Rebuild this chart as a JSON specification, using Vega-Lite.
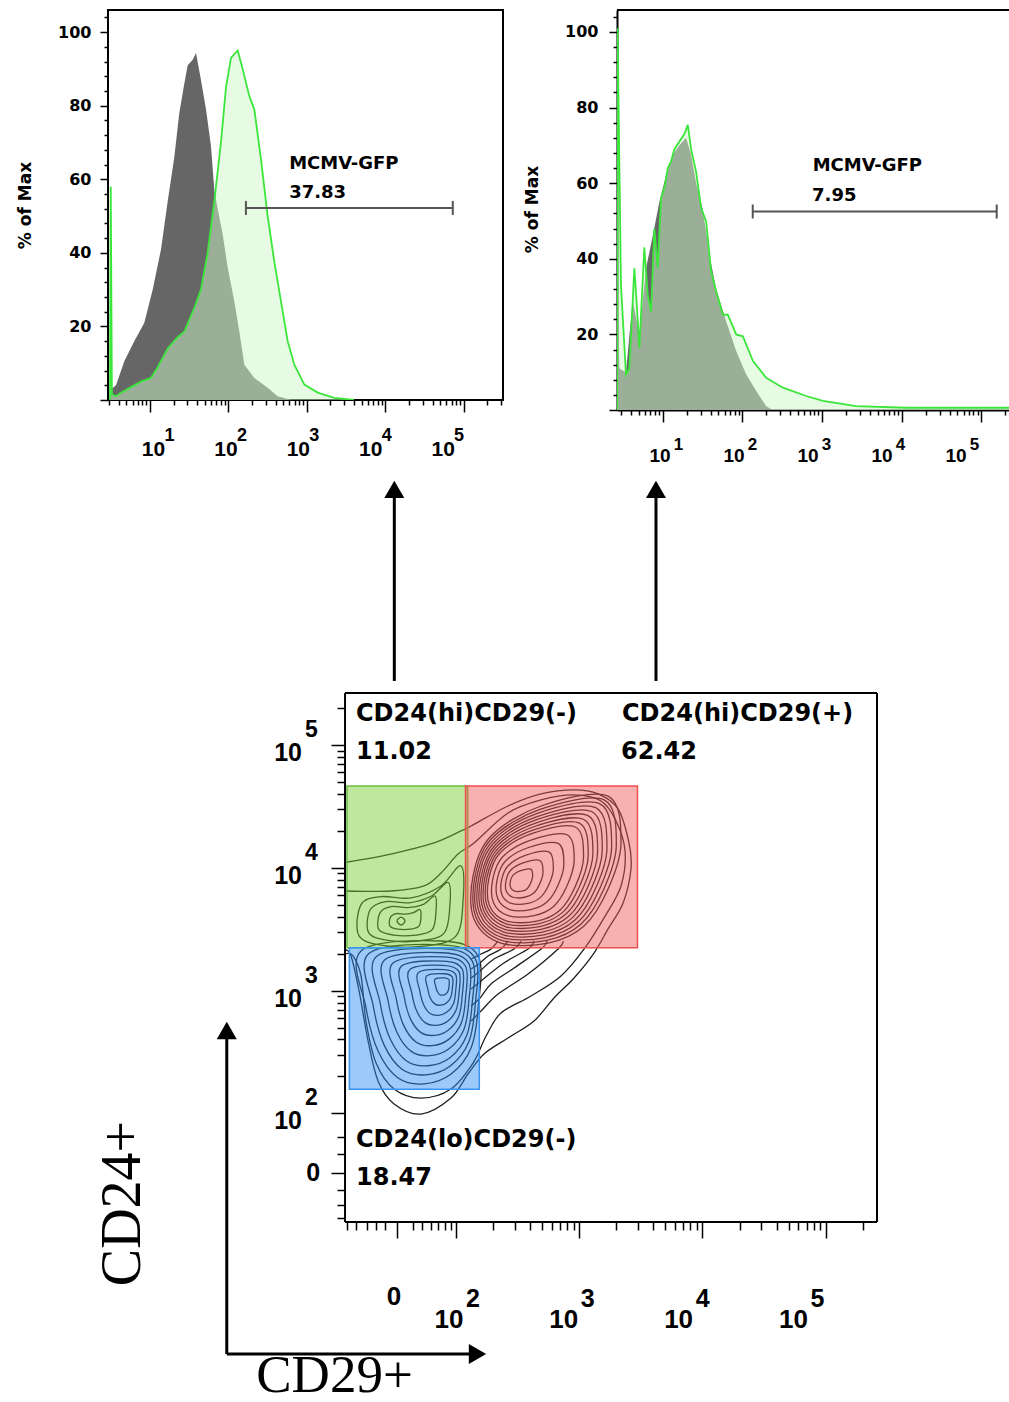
{
"$schema": "https://vega.github.io/schema/vega-lite/v6.json",
"background": "white",
"padding": {"left": 15, "top": 8, "right": 0, "bottom": 0},
"config": {"view": {"stroke": null}, "axis": {"grid": false, "labelOverlap": false, "labelFlush": false, "labelBound": false, "tickColor": "black", "tickWidth": 1.5, "labelColor": "black", "titleColor": "black"}},
"datasets": {
"blank": [{"t": ""}],
"h1grey": [{"L":0.49,"V":0},{"L":0.51,"V":3},{"L":0.567,"V":4},{"L":0.673,"V":10.5},{"L":0.8,"V":16},{"L":0.928,"V":21},{"L":1.035,"V":30},{"L":1.141,"V":41},{"L":1.226,"V":54},{"L":1.31,"V":66},{"L":1.374,"V":78},{"L":1.438,"V":86},{"L":1.481,"V":91},{"L":1.545,"V":92.5},{"L":1.587,"V":94.3},{"L":1.65,"V":87},{"L":1.714,"V":79},{"L":1.778,"V":69},{"L":1.82,"V":57},{"L":1.863,"V":52},{"L":1.927,"V":45},{"L":1.991,"V":36},{"L":2.075,"V":26.8},{"L":2.139,"V":18.6},{"L":2.203,"V":9.6},{"L":2.33,"V":6},{"L":2.5,"V":3.3},{"L":2.628,"V":1},{"L":2.8,"V":0}],
"h1green": [{"L":0.49,"V":0},{"L":0.5,"V":58},{"L":0.515,"V":1.5},{"L":0.567,"V":1},{"L":0.631,"V":2},{"L":0.758,"V":3.5},{"L":0.885,"V":5},{"L":1.013,"V":6},{"L":1.1,"V":9},{"L":1.226,"V":14},{"L":1.35,"V":17},{"L":1.438,"V":18.6},{"L":1.565,"V":25},{"L":1.65,"V":30},{"L":1.735,"V":40},{"L":1.82,"V":54},{"L":1.905,"V":70},{"L":1.969,"V":85},{"L":2.033,"V":93},{"L":2.118,"V":95},{"L":2.181,"V":90},{"L":2.266,"V":82.6},{"L":2.33,"V":79},{"L":2.415,"V":65.5},{"L":2.5,"V":50},{"L":2.585,"V":37.6},{"L":2.67,"V":26.8},{"L":2.755,"V":16},{"L":2.84,"V":9.6},{"L":2.968,"V":4.2},{"L":3.138,"V":2},{"L":3.35,"V":0.6},{"L":3.6,"V":0}],
"h2grey": [{"L":0.428,"V":0},{"L":0.432,"V":30},{"L":0.455,"V":11},{"L":0.538,"V":10},{"L":0.622,"V":29},{"L":0.706,"V":20},{"L":0.79,"V":37.5},{"L":0.874,"V":46},{"L":0.957,"V":55},{"L":1.041,"V":62},{"L":1.125,"V":67.5},{"L":1.209,"V":70},{"L":1.293,"V":72},{"L":1.356,"V":67.5},{"L":1.419,"V":60},{"L":1.503,"V":53},{"L":1.586,"V":41},{"L":1.67,"V":32},{"L":1.796,"V":23.5},{"L":1.922,"V":15.6},{"L":2.048,"V":9.4},{"L":2.174,"V":5},{"L":2.299,"V":1},{"L":2.383,"V":0}],
"h2green": [{"L":0.428,"V":0},{"L":0.432,"V":101},{"L":0.475,"V":33},{"L":0.538,"V":9.4},{"L":0.58,"V":11},{"L":0.643,"V":37.5},{"L":0.673,"V":28},{"L":0.706,"V":16.4},{"L":0.768,"V":43},{"L":0.811,"V":30.5},{"L":0.853,"V":26},{"L":0.894,"V":48},{"L":0.937,"V":37.5},{"L":0.978,"V":56},{"L":1.02,"V":58.7},{"L":1.063,"V":64},{"L":1.104,"V":65.7},{"L":1.146,"V":69},{"L":1.209,"V":71},{"L":1.272,"V":73},{"L":1.314,"V":75.4},{"L":1.356,"V":69},{"L":1.419,"V":63},{"L":1.482,"V":53.4},{"L":1.545,"V":49.9},{"L":1.607,"V":36.7},{"L":1.67,"V":31.4},{"L":1.755,"V":25.2},{"L":1.817,"V":25.2},{"L":1.922,"V":20},{"L":2.006,"V":19.5},{"L":2.132,"V":13},{"L":2.299,"V":8.5},{"L":2.509,"V":5.9},{"L":2.802,"V":3.7},{"L":3.012,"V":2.4},{"L":3.431,"V":1},{"L":4.06,"V":0.6},{"L":5.362,"V":0.6}],
"h1gate": [{"x1":2.223,"x2":4.86,"y":52.2}],
"h2gate": [{"x1":2.13,"x2":5.195,"y":52.5}],
"h1text": [{"x":2.774,"y":64.1,"t":"MCMV-GFP"},{"x":2.774,"y":56.3,"t":"37.83"}],
"h2text": [{"x":2.883,"y":64.5,"t":"MCMV-GFP"},{"x":2.875,"y":56.6,"t":"7.95"}],
"declab": [{"d":1,"t":"10","e":"1"},{"d":2,"t":"10","e":"2"},{"d":3,"t":"10","e":"3"},{"d":4,"t":"10","e":"4"},{"d":5,"t":"10","e":"5"}],
"cxlab": [{"d":2,"t":"10","e":"2"},{"d":3,"t":"10","e":"3"},{"d":4,"t":"10","e":"4"},{"d":5,"t":"10","e":"5"}],
"xzero": [{"v":1.521,"t":"0"}],
"yzero": [{"v":1.518,"t":"0"}],
"frame": [{"x1":1.099,"y1":1.116,"x2":1.099,"y2":5.423},{"x1":5.417,"y1":1.116,"x2":5.417,"y2":5.423},{"x1":1.099,"y1":5.423,"x2":5.417,"y2":5.423},{"x1":1.099,"y1":1.116,"x2":5.417,"y2":1.116}],
"gates": [{"gate":"hi-neg","x1":1.115,"x2":2.095,"y1":3.349,"y2":4.666},{"gate":"hi-pos","x1":2.077,"x2":3.473,"y1":3.349,"y2":4.666},{"gate":"lo-neg","x1":1.134,"x2":2.189,"y1":2.196,"y2":3.349}],
"gatelab": [{"x":1.188,"y":5.252,"t":"CD24(hi)CD29(-)"},{"x":1.188,"y":4.943,"t":"11.02"},{"x":3.347,"y":5.252,"t":"CD24(hi)CD29(+)"},{"x":3.339,"y":4.943,"t":"62.42"},{"x":1.188,"y":1.783,"t":"CD24(lo)CD29(-)"},{"x":1.188,"y":1.474,"t":"18.47"}],
"arrows": [{"x1":1.499,"y1":5.521,"x2":1.499,"y2":7.03},{"x1":3.623,"y1":5.521,"x2":3.623,"y2":7.03},{"x1":0.139,"y1":0.041,"x2":0.139,"y2":2.62},{"x1":0.139,"y1":0.041,"x2":2.127,"y2":0.041}],
"headsup": [{"x":1.499,"y":7.081},{"x":3.623,"y":7.081},{"x":0.139,"y":2.675}],
"headright": [{"x":2.174,"y":0.041}],
"openlines": [
{"c":"l1","i":0,"x":2.869,"y":3.404},{"c":"l1","i":1,"x":2.828,"y":3.339},{"c":"l1","i":2,"x":2.584,"y":3.135},{"c":"l1","i":3,"x":2.341,"y":2.972},{"c":"l1","i":4,"x":2.203,"y":2.834},{"c":"l1","i":5,"x":2.122,"y":2.752},
{"c":"l2","i":0,"x":2.739,"y":3.404},{"c":"l2","i":1,"x":2.69,"y":3.339},{"c":"l2","i":2,"x":2.471,"y":3.184},{"c":"l2","i":3,"x":2.284,"y":3.054},{"c":"l2","i":4,"x":2.195,"y":2.94},{"c":"l2","i":5,"x":2.122,"y":2.875},
{"c":"l3","i":0,"x":2.633,"y":3.404},{"c":"l3","i":1,"x":2.584,"y":3.339},{"c":"l3","i":2,"x":2.388,"y":3.225},{"c":"l3","i":3,"x":2.203,"y":3.078},{"c":"l3","i":4,"x":2.122,"y":3.013},
{"c":"l4","i":0,"x":2.528,"y":3.404},{"c":"l4","i":1,"x":2.471,"y":3.339},{"c":"l4","i":2,"x":2.308,"y":3.257},{"c":"l4","i":3,"x":2.195,"y":3.16},{"c":"l4","i":4,"x":2.122,"y":3.103},
{"c":"l5","i":0,"x":2.422,"y":3.404},{"c":"l5","i":1,"x":2.365,"y":3.339},{"c":"l5","i":2,"x":2.26,"y":3.282},{"c":"l5","i":3,"x":2.195,"y":3.225},{"c":"l5","i":4,"x":2.122,"y":3.176},
{"c":"l6","i":0,"x":2.341,"y":3.404},{"c":"l6","i":1,"x":2.284,"y":3.339},{"c":"l6","i":2,"x":2.203,"y":3.298},{"c":"l6","i":3,"x":2.122,"y":3.257},
{"c":"e1","i":0,"x":1.105,"y":4.045},{"c":"e1","i":1,"x":1.472,"y":4.112},{"c":"e1","i":2,"x":1.821,"y":4.202},{"c":"e1","i":3,"x":2.041,"y":4.3},{"c":"e1","i":4,"x":2.122,"y":4.34},{"c":"e1","i":5,"x":2.422,"y":4.503},{"c":"e1","i":6,"x":2.69,"y":4.601},{"c":"e1","i":7,"x":2.958,"y":4.634},{"c":"e1","i":8,"x":3.153,"y":4.601},{"c":"e1","i":9,"x":3.315,"y":4.479},{"c":"e1","i":10,"x":3.404,"y":4.202},{"c":"e1","i":11,"x":3.42,"y":3.99},{"c":"e1","i":12,"x":3.356,"y":3.713},{"c":"e1","i":13,"x":3.234,"y":3.502},{"c":"e1","i":14,"x":3.12,"y":3.306},{"c":"e1","i":15,"x":2.958,"y":3.103},{"c":"e1","i":16,"x":2.795,"y":2.94},{"c":"e1","i":17,"x":2.633,"y":2.752},{"c":"e1","i":18,"x":2.422,"y":2.614},{"c":"e1","i":19,"x":2.227,"y":2.484},{"c":"e1","i":20,"x":2.097,"y":2.321},{"c":"e1","i":21,"x":1.959,"y":2.125},{"c":"e1","i":22,"x":1.716,"y":1.995},{"c":"e1","i":23,"x":1.497,"y":2.077},{"c":"e1","i":24,"x":1.367,"y":2.264},{"c":"e1","i":25,"x":1.286,"y":2.59},{"c":"e1","i":26,"x":1.213,"y":2.997},{"c":"e1","i":27,"x":1.148,"y":3.282},{"c":"e1","i":28,"x":1.105,"y":3.33},
{"c":"e2","i":0,"x":1.105,"y":3.811},{"c":"e2","i":1,"x":1.472,"y":3.811},{"c":"e2","i":2,"x":1.74,"y":3.852},{"c":"e2","i":3,"x":1.878,"y":3.958},{"c":"e2","i":4,"x":2.016,"y":4.112},{"c":"e2","i":5,"x":2.146,"y":4.202},{"c":"e2","i":6,"x":2.422,"y":4.446},{"c":"e2","i":7,"x":2.69,"y":4.552},{"c":"e2","i":8,"x":2.958,"y":4.593},{"c":"e2","i":9,"x":3.177,"y":4.544},{"c":"e2","i":10,"x":3.299,"y":4.381},{"c":"e2","i":11,"x":3.372,"y":4.137},{"c":"e2","i":12,"x":3.339,"y":3.852},{"c":"e2","i":13,"x":3.21,"y":3.607},{"c":"e2","i":14,"x":3.04,"y":3.339},{"c":"e2","i":15,"x":2.852,"y":3.119},{"c":"e2","i":16,"x":2.609,"y":2.956},{"c":"e2","i":17,"x":2.365,"y":2.818},{"c":"e2","i":18,"x":2.244,"y":2.63},{"c":"e2","i":19,"x":2.138,"y":2.41},{"c":"e2","i":20,"x":1.959,"y":2.199},{"c":"e2","i":21,"x":1.716,"y":2.125},{"c":"e2","i":22,"x":1.497,"y":2.199},{"c":"e2","i":23,"x":1.351,"y":2.41},{"c":"e2","i":24,"x":1.269,"y":2.752},{"c":"e2","i":25,"x":1.229,"y":3.119},{"c":"e2","i":26,"x":1.164,"y":3.282},{"c":"e2","i":27,"x":1.105,"y":3.3}],
"cont": [
{"c":"r1","i":0,"x":2.606,"y":3.989},{"c":"r1","i":1,"x":2.622,"y":3.932},{"c":"r1","i":2,"x":2.606,"y":3.875},{"c":"r1","i":3,"x":2.577,"y":3.83},{"c":"r1","i":4,"x":2.533,"y":3.809},{"c":"r1","i":5,"x":2.475,"y":3.809},{"c":"r1","i":6,"x":2.443,"y":3.839},{"c":"r1","i":7,"x":2.441,"y":3.891},{"c":"r1","i":8,"x":2.463,"y":3.94},{"c":"r1","i":9,"x":2.524,"y":3.977},
{"c":"r2","i":0,"x":2.68,"y":4.059},{"c":"r2","i":1,"x":2.706,"y":3.964},{"c":"r2","i":2,"x":2.68,"y":3.87},{"c":"r2","i":3,"x":2.631,"y":3.794},{"c":"r2","i":4,"x":2.558,"y":3.76},{"c":"r2","i":5,"x":2.462,"y":3.76},{"c":"r2","i":6,"x":2.408,"y":3.809},{"c":"r2","i":7,"x":2.406,"y":3.896},{"c":"r2","i":8,"x":2.442,"y":3.978},{"c":"r2","i":9,"x":2.544,"y":4.039},
{"c":"r3","i":0,"x":2.754,"y":4.129},{"c":"r3","i":1,"x":2.79,"y":3.995},{"c":"r3","i":2,"x":2.754,"y":3.864},{"c":"r3","i":3,"x":2.685,"y":3.759},{"c":"r3","i":4,"x":2.583,"y":3.71},{"c":"r3","i":5,"x":2.449,"y":3.71},{"c":"r3","i":6,"x":2.373,"y":3.779},{"c":"r3","i":7,"x":2.37,"y":3.901},{"c":"r3","i":8,"x":2.421,"y":4.015},{"c":"r3","i":9,"x":2.563,"y":4.101},
{"c":"r4","i":0,"x":2.828,"y":4.199},{"c":"r4","i":1,"x":2.875,"y":4.027},{"c":"r4","i":2,"x":2.828,"y":3.858},{"c":"r4","i":3,"x":2.74,"y":3.723},{"c":"r4","i":4,"x":2.608,"y":3.66},{"c":"r4","i":5,"x":2.436,"y":3.66},{"c":"r4","i":6,"x":2.338,"y":3.749},{"c":"r4","i":7,"x":2.334,"y":3.906},{"c":"r4","i":8,"x":2.4,"y":4.053},{"c":"r4","i":9,"x":2.583,"y":4.163},
{"c":"r5","i":0,"x":2.901,"y":4.269},{"c":"r5","i":1,"x":2.959,"y":4.059},{"c":"r5","i":2,"x":2.901,"y":3.853},{"c":"r5","i":3,"x":2.794,"y":3.687},{"c":"r5","i":4,"x":2.634,"y":3.611},{"c":"r5","i":5,"x":2.423,"y":3.611},{"c":"r5","i":6,"x":2.303,"y":3.718},{"c":"r5","i":7,"x":2.299,"y":3.911},{"c":"r5","i":8,"x":2.379,"y":4.09},{"c":"r5","i":9,"x":2.602,"y":4.224},
{"c":"r6","i":0,"x":2.968,"y":4.332},{"c":"r6","i":1,"x":3.035,"y":4.088},{"c":"r6","i":2,"x":2.968,"y":3.848},{"c":"r6","i":3,"x":2.843,"y":3.655},{"c":"r6","i":4,"x":2.656,"y":3.566},{"c":"r6","i":5,"x":2.412,"y":3.566},{"c":"r6","i":6,"x":2.272,"y":3.691},{"c":"r6","i":7,"x":2.267,"y":3.915},{"c":"r6","i":8,"x":2.36,"y":4.124},{"c":"r6","i":9,"x":2.62,"y":4.28},
{"c":"r7","i":0,"x":3.001,"y":4.364},{"c":"r7","i":1,"x":3.073,"y":4.102},{"c":"r7","i":2,"x":3.001,"y":3.845},{"c":"r7","i":3,"x":2.868,"y":3.639},{"c":"r7","i":4,"x":2.668,"y":3.544},{"c":"r7","i":5,"x":2.406,"y":3.544},{"c":"r7","i":6,"x":2.256,"y":3.678},{"c":"r7","i":7,"x":2.25,"y":3.918},{"c":"r7","i":8,"x":2.35,"y":4.141},{"c":"r7","i":9,"x":2.629,"y":4.308},
{"c":"r8","i":0,"x":3.034,"y":4.395},{"c":"r8","i":1,"x":3.111,"y":4.116},{"c":"r8","i":2,"x":3.034,"y":3.842},{"c":"r8","i":3,"x":2.892,"y":3.623},{"c":"r8","i":4,"x":2.679,"y":3.521},{"c":"r8","i":5,"x":2.4,"y":3.521},{"c":"r8","i":6,"x":2.24,"y":3.664},{"c":"r8","i":7,"x":2.234,"y":3.92},{"c":"r8","i":8,"x":2.341,"y":4.158},{"c":"r8","i":9,"x":2.637,"y":4.336},
{"c":"r9","i":0,"x":3.068,"y":4.427},{"c":"r9","i":1,"x":3.149,"y":4.13},{"c":"r9","i":2,"x":3.068,"y":3.84},{"c":"r9","i":3,"x":2.917,"y":3.607},{"c":"r9","i":4,"x":2.69,"y":3.499},{"c":"r9","i":5,"x":2.394,"y":3.499},{"c":"r9","i":6,"x":2.225,"y":3.651},{"c":"r9","i":7,"x":2.218,"y":3.922},{"c":"r9","i":8,"x":2.331,"y":4.175},{"c":"r9","i":9,"x":2.646,"y":4.364},
{"c":"r10","i":0,"x":3.101,"y":4.458},{"c":"r10","i":1,"x":3.187,"y":4.145},{"c":"r10","i":2,"x":3.101,"y":3.837},{"c":"r10","i":3,"x":2.941,"y":3.59},{"c":"r10","i":4,"x":2.702,"y":3.476},{"c":"r10","i":5,"x":2.388,"y":3.476},{"c":"r10","i":6,"x":2.209,"y":3.637},{"c":"r10","i":7,"x":2.202,"y":3.924},{"c":"r10","i":8,"x":2.322,"y":4.192},{"c":"r10","i":9,"x":2.655,"y":4.392},
{"c":"r11","i":0,"x":3.134,"y":4.49},{"c":"r11","i":1,"x":3.225,"y":4.159},{"c":"r11","i":2,"x":3.134,"y":3.835},{"c":"r11","i":3,"x":2.966,"y":3.574},{"c":"r11","i":4,"x":2.713,"y":3.454},{"c":"r11","i":5,"x":2.383,"y":3.454},{"c":"r11","i":6,"x":2.193,"y":3.624},{"c":"r11","i":7,"x":2.186,"y":3.926},{"c":"r11","i":8,"x":2.312,"y":4.208},{"c":"r11","i":9,"x":2.664,"y":4.419},
{"c":"r12","i":0,"x":3.167,"y":4.521},{"c":"r12","i":1,"x":3.263,"y":4.173},{"c":"r12","i":2,"x":3.167,"y":3.832},{"c":"r12","i":3,"x":2.99,"y":3.558},{"c":"r12","i":4,"x":2.724,"y":3.432},{"c":"r12","i":5,"x":2.377,"y":3.432},{"c":"r12","i":6,"x":2.177,"y":3.61},{"c":"r12","i":7,"x":2.17,"y":3.929},{"c":"r12","i":8,"x":2.303,"y":4.225},{"c":"r12","i":9,"x":2.672,"y":4.447},
{"c":"r13","i":0,"x":3.201,"y":4.553},{"c":"r13","i":1,"x":3.301,"y":4.188},{"c":"r13","i":2,"x":3.201,"y":3.83},{"c":"r13","i":3,"x":3.015,"y":3.542},{"c":"r13","i":4,"x":2.736,"y":3.409},{"c":"r13","i":5,"x":2.371,"y":3.409},{"c":"r13","i":6,"x":2.162,"y":3.597},{"c":"r13","i":7,"x":2.154,"y":3.931},{"c":"r13","i":8,"x":2.293,"y":4.242},{"c":"r13","i":9,"x":2.681,"y":4.475},
{"c":"r14","i":0,"x":3.234,"y":4.584},{"c":"r14","i":1,"x":3.339,"y":4.202},{"c":"r14","i":2,"x":3.234,"y":3.827},{"c":"r14","i":3,"x":3.039,"y":3.526},{"c":"r14","i":4,"x":2.747,"y":3.387},{"c":"r14","i":5,"x":2.365,"y":3.387},{"c":"r14","i":6,"x":2.146,"y":3.583},{"c":"r14","i":7,"x":2.138,"y":3.933},{"c":"r14","i":8,"x":2.284,"y":4.259},{"c":"r14","i":9,"x":2.69,"y":4.503},
{"c":"b1","i":0,"x":1.829,"y":3.093},{"c":"b1","i":1,"x":1.834,"y":3.038},{"c":"b1","i":2,"x":1.846,"y":2.996},{"c":"b1","i":3,"x":1.865,"y":2.969},{"c":"b1","i":4,"x":1.891,"y":2.963},{"c":"b1","i":5,"x":1.917,"y":2.973},{"c":"b1","i":6,"x":1.936,"y":2.999},{"c":"b1","i":7,"x":1.943,"y":3.038},{"c":"b1","i":8,"x":1.943,"y":3.088},{"c":"b1","i":9,"x":1.907,"y":3.103},
{"c":"b2","i":0,"x":1.761,"y":3.119},{"c":"b2","i":1,"x":1.77,"y":3.017},{"c":"b2","i":2,"x":1.791,"y":2.94},{"c":"b2","i":3,"x":1.827,"y":2.892},{"c":"b2","i":4,"x":1.874,"y":2.881},{"c":"b2","i":5,"x":1.922,"y":2.899},{"c":"b2","i":6,"x":1.957,"y":2.946},{"c":"b2","i":7,"x":1.97,"y":3.017},{"c":"b2","i":8,"x":1.97,"y":3.11},{"c":"b2","i":9,"x":1.904,"y":3.137},
{"c":"b3","i":0,"x":1.693,"y":3.146},{"c":"b3","i":1,"x":1.706,"y":2.997},{"c":"b3","i":2,"x":1.737,"y":2.885},{"c":"b3","i":3,"x":1.789,"y":2.814},{"c":"b3","i":4,"x":1.857,"y":2.799},{"c":"b3","i":5,"x":1.927,"y":2.825},{"c":"b3","i":6,"x":1.979,"y":2.893},{"c":"b3","i":7,"x":1.997,"y":2.997},{"c":"b3","i":8,"x":1.997,"y":3.132},{"c":"b3","i":9,"x":1.901,"y":3.171},
{"c":"b4","i":0,"x":1.625,"y":3.172},{"c":"b4","i":1,"x":1.642,"y":2.976},{"c":"b4","i":2,"x":1.683,"y":2.829},{"c":"b4","i":3,"x":1.751,"y":2.737},{"c":"b4","i":4,"x":1.84,"y":2.717},{"c":"b4","i":5,"x":1.932,"y":2.751},{"c":"b4","i":6,"x":2.0,"y":2.84},{"c":"b4","i":7,"x":2.024,"y":2.976},{"c":"b4","i":8,"x":2.024,"y":3.154},{"c":"b4","i":9,"x":1.898,"y":3.206},
{"c":"b5","i":0,"x":1.556,"y":3.198},{"c":"b5","i":1,"x":1.578,"y":2.956},{"c":"b5","i":2,"x":1.628,"y":2.774},{"c":"b5","i":3,"x":1.713,"y":2.66},{"c":"b5","i":4,"x":1.823,"y":2.635},{"c":"b5","i":5,"x":1.936,"y":2.677},{"c":"b5","i":6,"x":2.021,"y":2.787},{"c":"b5","i":7,"x":2.05,"y":2.956},{"c":"b5","i":8,"x":2.05,"y":3.176},{"c":"b5","i":9,"x":1.894,"y":3.24},
{"c":"b6","i":0,"x":1.488,"y":3.224},{"c":"b6","i":1,"x":1.514,"y":2.936},{"c":"b6","i":2,"x":1.574,"y":2.719},{"c":"b6","i":3,"x":1.675,"y":2.582},{"c":"b6","i":4,"x":1.806,"y":2.552},{"c":"b6","i":5,"x":1.941,"y":2.603},{"c":"b6","i":6,"x":2.042,"y":2.734},{"c":"b6","i":7,"x":2.077,"y":2.936},{"c":"b6","i":8,"x":2.077,"y":3.198},{"c":"b6","i":9,"x":1.891,"y":3.274},
{"c":"b7","i":0,"x":1.42,"y":3.25},{"c":"b7","i":1,"x":1.449,"y":2.915},{"c":"b7","i":2,"x":1.519,"y":2.663},{"c":"b7","i":3,"x":1.637,"y":2.505},{"c":"b7","i":4,"x":1.789,"y":2.47},{"c":"b7","i":5,"x":1.946,"y":2.528},{"c":"b7","i":6,"x":2.063,"y":2.681},{"c":"b7","i":7,"x":2.104,"y":2.915},{"c":"b7","i":8,"x":2.104,"y":3.22},{"c":"b7","i":9,"x":1.888,"y":3.308},
{"c":"b8","i":0,"x":1.352,"y":3.276},{"c":"b8","i":1,"x":1.385,"y":2.895},{"c":"b8","i":2,"x":1.465,"y":2.608},{"c":"b8","i":3,"x":1.599,"y":2.427},{"c":"b8","i":4,"x":1.772,"y":2.388},{"c":"b8","i":5,"x":1.951,"y":2.454},{"c":"b8","i":6,"x":2.084,"y":2.628},{"c":"b8","i":7,"x":2.131,"y":2.895},{"c":"b8","i":8,"x":2.131,"y":3.242},{"c":"b8","i":9,"x":1.885,"y":3.342},
{"c":"b9","i":0,"x":1.29,"y":3.3},{"c":"b9","i":1,"x":1.328,"y":2.876},{"c":"b9","i":2,"x":1.416,"y":2.558},{"c":"b9","i":3,"x":1.564,"y":2.358},{"c":"b9","i":4,"x":1.756,"y":2.314},{"c":"b9","i":5,"x":1.956,"y":2.388},{"c":"b9","i":6,"x":2.103,"y":2.581},{"c":"b9","i":7,"x":2.155,"y":2.876},{"c":"b9","i":8,"x":2.155,"y":3.262},{"c":"b9","i":9,"x":1.882,"y":3.373},
{"c":"b10","i":0,"x":1.229,"y":3.323},{"c":"b10","i":1,"x":1.27,"y":2.858},{"c":"b10","i":2,"x":1.367,"y":2.508},{"c":"b10","i":3,"x":1.53,"y":2.288},{"c":"b10","i":4,"x":1.741,"y":2.24},{"c":"b10","i":5,"x":1.96,"y":2.321},{"c":"b10","i":6,"x":2.122,"y":2.533},{"c":"b10","i":7,"x":2.179,"y":2.858},{"c":"b10","i":8,"x":2.179,"y":3.282},{"c":"b10","i":9,"x":1.879,"y":3.404},
{"c":"g0","i":0,"x":1.521,"y":3.567},{"c":"g0","i":1,"x":1.554,"y":3.599},{"c":"g0","i":2,"x":1.586,"y":3.567},{"c":"g0","i":3,"x":1.554,"y":3.534},
{"c":"g1","i":0,"x":1.468,"y":3.598},{"c":"g1","i":1,"x":1.463,"y":3.525},{"c":"g1","i":2,"x":1.529,"y":3.5},{"c":"g1","i":3,"x":1.626,"y":3.5},{"c":"g1","i":4,"x":1.699,"y":3.525},{"c":"g1","i":5,"x":1.716,"y":3.61},{"c":"g1","i":6,"x":1.705,"y":3.66},{"c":"g1","i":7,"x":1.655,"y":3.635},{"c":"g1","i":8,"x":1.59,"y":3.623},{"c":"g1","i":9,"x":1.516,"y":3.627},
{"c":"g2","i":0,"x":1.382,"y":3.631},{"c":"g2","i":1,"x":1.374,"y":3.496},{"c":"g2","i":2,"x":1.494,"y":3.452},{"c":"g2","i":3,"x":1.673,"y":3.452},{"c":"g2","i":4,"x":1.807,"y":3.496},{"c":"g2","i":5,"x":1.838,"y":3.653},{"c":"g2","i":6,"x":1.829,"y":3.77},{"c":"g2","i":7,"x":1.73,"y":3.7},{"c":"g2","i":8,"x":1.606,"y":3.676},{"c":"g2","i":9,"x":1.472,"y":3.684},
{"c":"g3","i":0,"x":1.304,"y":3.66},{"c":"g3","i":1,"x":1.292,"y":3.47},{"c":"g3","i":2,"x":1.462,"y":3.407},{"c":"g3","i":3,"x":1.716,"y":3.407},{"c":"g3","i":4,"x":1.905,"y":3.47},{"c":"g3","i":5,"x":1.95,"y":3.692},{"c":"g3","i":6,"x":1.937,"y":3.88},{"c":"g3","i":7,"x":1.8,"y":3.77},{"c":"g3","i":8,"x":1.621,"y":3.715},{"c":"g3","i":9,"x":1.43,"y":3.725},
{"c":"g4","i":0,"x":1.229,"y":3.7},{"c":"g4","i":1,"x":1.213,"y":3.445},{"c":"g4","i":2,"x":1.432,"y":3.364},{"c":"g4","i":3,"x":1.757,"y":3.364},{"c":"g4","i":4,"x":2.0,"y":3.445},{"c":"g4","i":5,"x":2.057,"y":3.73},{"c":"g4","i":6,"x":2.041,"y":4.015},{"c":"g4","i":7,"x":1.878,"y":3.852},{"c":"g4","i":8,"x":1.635,"y":3.755},{"c":"g4","i":9,"x":1.391,"y":3.765}]
},
"vconcat": [
{
"hconcat": [
{
"width": 395, "height": 390,
"view": {"stroke": "black", "strokeWidth": 2},
"resolve": {"scale": {"x": "independent"}},
"layer": [
  {"data": {"name": "h1grey"}, "mark": {"type": "area", "color": "#666666", "clip": true},
   "encoding": {
    "x": {"field": "L", "type": "quantitative", "scale": {"domain": [0.465, 5.5], "nice": false, "zero": false},
     "axis": {"values": [0.477,0.602,0.699,0.778,0.845,0.903,0.954,1,1.301,1.477,1.602,1.699,1.778,1.845,1.903,1.954,2,2.301,2.477,2.602,2.699,2.778,2.845,2.903,2.954,3,3.301,3.477,3.602,3.699,3.778,3.845,3.903,3.954,4,4.301,4.477,4.602,4.699,4.778,4.845,4.903,4.954,5,5.301,5.477], "tickCount": 500, "labels": false, "title": null, "domain": false, "tickSize": {"condition": {"test": "datum.value == floor(datum.value)", "value": 12}, "value": 5}}},
    "y": {"field": "V", "type": "quantitative", "scale": {"domain": [0, 106], "nice": false, "zero": false},
     "axis": {"values": [0,4,8,12,16,20,24,28,32,36,40,44,48,52,56,60,64,68,72,76,80,84,88,92,96,100,104], "tickCount": 500, "format": "d", "labelExpr": "datum.value % 20 == 0 && datum.value > 0 ? datum.label : ''", "labelOverlap": false, "labelFlush": false, "labelBound": false, "labelFont": "DejaVu Sans", "labelFontWeight": "bold", "labelFontSize": 16, "labelPadding": 9, "domain": false, "tickSize": {"condition": {"test": "datum.value % 20 == 0", "value": 8}, "value": 4}, "title": "% of Max", "titleFont": "DejaVu Sans", "titleFontWeight": "bold", "titleFontSize": 17, "titleAngle": 270, "titleAlign": "center", "titleBaseline": "alphabetic", "titleX": -78, "titleY": 195}}
   }},
  {"data": {"name": "h1green"}, "mark": {"type": "area", "color": "#d0f5c8", "opacity": 0.5, "clip": true},
   "encoding": {"x": {"field": "L", "type": "quantitative", "scale": {"domain": [0.465, 5.5], "nice": false, "zero": false}, "axis": null}, "y": {"field": "V", "type": "quantitative", "scale": {"domain": [0, 106], "nice": false, "zero": false}}}},
  {"data": {"name": "h1green"}, "mark": {"type": "line", "color": "#3be63b", "strokeWidth": 1.8, "clip": true},
   "encoding": {"x": {"field": "L", "type": "quantitative", "scale": {"domain": [0.465, 5.5], "nice": false, "zero": false}, "axis": null}, "y": {"field": "V", "type": "quantitative", "scale": {"domain": [0, 106], "nice": false, "zero": false}}}},
  {"data": {"name": "h1gate"}, "mark": {"type": "rule", "color": "#555555", "strokeWidth": 2},
   "encoding": {"x": {"field": "x1", "type": "quantitative", "scale": {"domain": [0.465, 5.5], "nice": false, "zero": false}, "axis": null}, "x2": {"field": "x2"}, "y": {"field": "y", "type": "quantitative", "scale": {"domain": [0, 106], "nice": false, "zero": false}}}},
  {"data": {"name": "h1gate"}, "mark": {"type": "point", "shape": "M0,-1L0,1", "size": 196, "color": "#555555", "filled": false, "strokeWidth": 2, "opacity": 1},
   "encoding": {"x": {"field": "x1", "type": "quantitative", "scale": {"domain": [0.465, 5.5], "nice": false, "zero": false}, "axis": null}, "y": {"field": "y", "type": "quantitative", "scale": {"domain": [0, 106], "nice": false, "zero": false}}}},
  {"data": {"name": "h1gate"}, "mark": {"type": "point", "shape": "M0,-1L0,1", "size": 196, "color": "#555555", "filled": false, "strokeWidth": 2, "opacity": 1},
   "encoding": {"x": {"field": "x2", "type": "quantitative", "scale": {"domain": [0.465, 5.5], "nice": false, "zero": false}, "axis": null}, "y": {"field": "y", "type": "quantitative", "scale": {"domain": [0, 106], "nice": false, "zero": false}}}},
  {"data": {"name": "h1text"}, "mark": {"type": "text", "align": "left", "baseline": "middle", "font": "DejaVu Sans", "fontWeight": "bold", "fontSize": 18, "color": "black"},
   "encoding": {"x": {"field": "x", "type": "quantitative", "scale": {"domain": [0.465, 5.5], "nice": false, "zero": false}, "axis": null}, "y": {"field": "y", "type": "quantitative", "scale": {"domain": [0, 106], "nice": false, "zero": false}}, "text": {"field": "t"}}},
  {"data": {"name": "declab"}, "mark": {"type": "text", "font": "Liberation Sans", "fontWeight": "bold", "fontSize": 21, "align": "center", "baseline": "middle", "dy": 50, "color": "black"},
   "encoding": {"x": {"field": "d", "type": "quantitative", "scale": {"domain": [0.3716, 5.827], "nice": false, "zero": false}, "axis": null}, "y": {"datum": 0, "type": "quantitative", "scale": {"domain": [0, 106], "nice": false, "zero": false}}, "text": {"field": "t"}}},
  {"data": {"name": "declab"}, "mark": {"type": "text", "font": "Liberation Sans", "fontWeight": "bold", "fontSize": 18, "align": "center", "baseline": "middle", "dx": 16, "dy": 36, "color": "black"},
   "encoding": {"x": {"field": "d", "type": "quantitative", "scale": {"domain": [0.3716, 5.827], "nice": false, "zero": false}, "axis": null}, "y": {"datum": 0, "type": "quantitative", "scale": {"domain": [0, 106], "nice": false, "zero": false}}, "text": {"field": "e"}}}
]
},
{
"width": 393, "height": 400,
"resolve": {"scale": {"x": "independent"}},
"layer": [
  {"data": {"name": "h2grey"}, "mark": {"type": "area", "color": "#666666", "clip": true},
   "encoding": {
    "x": {"field": "L", "type": "quantitative", "scale": {"domain": [0.425, 5.362], "nice": false, "zero": false},
     "axis": {"values": [0.477,0.602,0.699,0.778,0.845,0.903,0.954,1,1.301,1.477,1.602,1.699,1.778,1.845,1.903,1.954,2,2.301,2.477,2.602,2.699,2.778,2.845,2.903,2.954,3,3.301,3.477,3.602,3.699,3.778,3.845,3.903,3.954,4,4.301,4.477,4.602,4.699,4.778,4.845,4.903,4.954,5,5.301], "tickCount": 500, "labels": false, "title": null, "domain": true, "domainColor": "black", "domainWidth": 2, "tickSize": {"condition": {"test": "datum.value == floor(datum.value)", "value": 12}, "value": 5}}},
    "y": {"field": "V", "type": "quantitative", "scale": {"domain": [0, 105.8], "nice": false, "zero": false},
     "axis": {"values": [0,4,8,12,16,20,24,28,32,36,40,44,48,52,56,60,64,68,72,76,80,84,88,92,96,100,104], "tickCount": 500, "format": "d", "labelExpr": "datum.value % 20 == 0 && datum.value > 0 ? datum.label : ''", "labelOverlap": false, "labelFlush": false, "labelBound": false, "labelFont": "DejaVu Sans", "labelFontWeight": "bold", "labelFontSize": 16, "labelPadding": 11, "domain": true, "domainColor": "black", "domainWidth": 2, "tickSize": {"condition": {"test": "datum.value % 20 == 0", "value": 8}, "value": 4}, "title": "% of Max", "titleFont": "DejaVu Sans", "titleFontWeight": "bold", "titleFontSize": 17, "titleAngle": 270, "titleAlign": "center", "titleBaseline": "alphabetic", "titleX": -79.5, "titleY": 199}}
   }},
  {"data": {"name": "h2green"}, "mark": {"type": "area", "color": "#d0f5c8", "opacity": 0.5, "clip": true},
   "encoding": {"x": {"field": "L", "type": "quantitative", "scale": {"domain": [0.425, 5.362], "nice": false, "zero": false}, "axis": null}, "y": {"field": "V", "type": "quantitative", "scale": {"domain": [0, 105.8], "nice": false, "zero": false}}}},
  {"data": {"name": "h2green"}, "mark": {"type": "line", "color": "#3be63b", "strokeWidth": 1.8, "clip": true},
   "encoding": {"x": {"field": "L", "type": "quantitative", "scale": {"domain": [0.425, 5.362], "nice": false, "zero": false}, "axis": null}, "y": {"field": "V", "type": "quantitative", "scale": {"domain": [0, 105.8], "nice": false, "zero": false}}}},
  {"data": {"name": "blank"}, "mark": {"type": "rule", "color": "black", "strokeWidth": 2},
   "encoding": {"y": {"datum": 105.8, "type": "quantitative", "scale": {"domain": [0, 105.8], "nice": false, "zero": false}}}},
  {"data": {"name": "h2gate"}, "mark": {"type": "rule", "color": "#555555", "strokeWidth": 2},
   "encoding": {"x": {"field": "x1", "type": "quantitative", "scale": {"domain": [0.425, 5.362], "nice": false, "zero": false}, "axis": null}, "x2": {"field": "x2"}, "y": {"field": "y", "type": "quantitative", "scale": {"domain": [0, 105.8], "nice": false, "zero": false}}}},
  {"data": {"name": "h2gate"}, "mark": {"type": "point", "shape": "M0,-1L0,1", "size": 196, "color": "#555555", "filled": false, "strokeWidth": 2, "opacity": 1},
   "encoding": {"x": {"field": "x1", "type": "quantitative", "scale": {"domain": [0.425, 5.362], "nice": false, "zero": false}, "axis": null}, "y": {"field": "y", "type": "quantitative", "scale": {"domain": [0, 105.8], "nice": false, "zero": false}}}},
  {"data": {"name": "h2gate"}, "mark": {"type": "point", "shape": "M0,-1L0,1", "size": 196, "color": "#555555", "filled": false, "strokeWidth": 2, "opacity": 1},
   "encoding": {"x": {"field": "x2", "type": "quantitative", "scale": {"domain": [0.425, 5.362], "nice": false, "zero": false}, "axis": null}, "y": {"field": "y", "type": "quantitative", "scale": {"domain": [0, 105.8], "nice": false, "zero": false}}}},
  {"data": {"name": "h2text"}, "mark": {"type": "text", "align": "left", "baseline": "middle", "font": "DejaVu Sans", "fontWeight": "bold", "fontSize": 18, "color": "black"},
   "encoding": {"x": {"field": "x", "type": "quantitative", "scale": {"domain": [0.425, 5.362], "nice": false, "zero": false}, "axis": null}, "y": {"field": "y", "type": "quantitative", "scale": {"domain": [0, 105.8], "nice": false, "zero": false}}, "text": {"field": "t"}}},
  {"data": {"name": "declab"}, "mark": {"type": "text", "font": "Liberation Sans", "fontWeight": "bold", "fontSize": 19, "align": "center", "baseline": "middle", "dy": 46, "color": "black"},
   "encoding": {"x": {"field": "d", "type": "quantitative", "scale": {"domain": [0.419, 5.73], "nice": false, "zero": false}, "axis": null}, "y": {"datum": 0, "type": "quantitative", "scale": {"domain": [0, 105.8], "nice": false, "zero": false}}, "text": {"field": "t"}}},
  {"data": {"name": "declab"}, "mark": {"type": "text", "font": "Liberation Sans", "fontWeight": "bold", "fontSize": 17, "align": "center", "baseline": "middle", "dx": 18.5, "dy": 35, "color": "black"},
   "encoding": {"x": {"field": "d", "type": "quantitative", "scale": {"domain": [0.419, 5.73], "nice": false, "zero": false}, "axis": null}, "y": {"datum": 0, "type": "quantitative", "scale": {"domain": [0, 105.8], "nice": false, "zero": false}}, "text": {"field": "e"}}}
]
}
],
"bounds": "flush",
"spacing": 114
},
{
"width": 769, "height": 529,
"resolve": {"scale": {"x": "independent"}},
"layer": [
  {"data": {"name": "cont"}, "mark": {"type": "line", "interpolate": "cardinal-closed", "color": "#1e1e1e", "strokeWidth": 1.3, "clip": true},
   "encoding": {
    "x": {"field": "x", "type": "quantitative", "scale": {"domain": [-0.825, 5.417], "nice": false, "zero": false},
     "axis": {"values": [1.115,1.188,1.278,1.351,1.421,1.521,1.651,1.724,1.797,1.854,1.911,1.959,2,2.301,2.477,2.602,2.699,2.778,2.845,2.903,2.954,3,3.301,3.477,3.602,3.699,3.778,3.845,3.903,3.954,4,4.301,4.477,4.602,4.699,4.778,4.845,4.903,4.954,5,5.301], "tickCount": 500, "labels": false, "domain": false, "tickSize": {"condition": {"test": "indexof([1.521,2,3,4,5], datum.value) >= 0", "value": 16}, "value": 8}, "title": "CD29+", "titleFont": "Liberation Serif", "titleFontSize": 53, "titleFontWeight": "normal", "titleAngle": 0, "titleAlign": "center", "titleBaseline": "alphabetic", "titleX": 226, "titleY": 169}},
    "y": {"field": "y", "type": "quantitative", "scale": {"domain": [1.116, 5.423], "nice": false, "zero": false},
     "axis": {"values": [1.148,1.257,1.38,1.518,1.669,1.808,2,2.301,2.477,2.602,2.699,2.778,2.845,2.903,2.954,3,3.301,3.477,3.602,3.699,3.778,3.845,3.903,3.954,4,4.301,4.477,4.602,4.699,4.778,4.845,4.903,4.954,5,5.301], "tickCount": 500, "labels": false, "domain": false, "offset": -237, "tickSize": {"condition": {"test": "indexof([1.518,2,3,4,5], datum.value) >= 0", "value": 14}, "value": 8}, "title": "CD24+", "titleFont": "Liberation Serif", "titleFontSize": 56, "titleFontWeight": "normal", "titleAngle": 270, "titleAlign": "center", "titleBaseline": "alphabetic", "titleX": -206, "titleY": 510}},
    "detail": {"field": "c"},
    "order": {"field": "i", "type": "quantitative"}
   }},
  {"data": {"name": "openlines"}, "mark": {"type": "line", "interpolate": "cardinal", "color": "#1e1e1e", "strokeWidth": 1.3, "clip": true},
   "encoding": {"x": {"field": "x", "type": "quantitative", "scale": {"domain": [-0.825, 5.417], "nice": false, "zero": false}, "axis": null}, "y": {"field": "y", "type": "quantitative", "scale": {"domain": [1.116, 5.423], "nice": false, "zero": false}}, "detail": {"field": "c"}, "order": {"field": "i", "type": "quantitative"}}},
  {"data": {"name": "gates"}, "mark": {"type": "rect", "fillOpacity": 0.47, "strokeWidth": 1.5, "strokeOpacity": 1},
   "encoding": {"x": {"field": "x1", "type": "quantitative", "scale": {"domain": [-0.825, 5.417], "nice": false, "zero": false}, "axis": null}, "x2": {"field": "x2"}, "y": {"field": "y1", "type": "quantitative", "scale": {"domain": [1.116, 5.423], "nice": false, "zero": false}}, "y2": {"field": "y2"},
    "fill": {"field": "gate", "type": "nominal", "scale": {"domain": ["hi-neg", "hi-pos", "lo-neg"], "range": ["#78cc30", "#ee5a5a", "#2c8ff0"]}, "legend": null},
    "stroke": {"field": "gate", "type": "nominal", "scale": {"domain": ["hi-neg", "hi-pos", "lo-neg"], "range": ["#6cc040", "#f25050", "#3a94ee"]}, "legend": null}}},
  {"data": {"name": "gatelab"}, "mark": {"type": "text", "align": "left", "baseline": "middle", "font": "DejaVu Sans", "fontWeight": "bold", "fontSize": 24, "color": "black"},
   "encoding": {"x": {"field": "x", "type": "quantitative", "scale": {"domain": [-0.825, 5.417], "nice": false, "zero": false}, "axis": null}, "y": {"field": "y", "type": "quantitative", "scale": {"domain": [1.116, 5.423], "nice": false, "zero": false}}, "text": {"field": "t"}}},
  {"data": {"name": "frame"}, "mark": {"type": "rule", "color": "black", "strokeWidth": 2},
   "encoding": {"x": {"field": "x1", "type": "quantitative", "scale": {"domain": [-0.825, 5.417], "nice": false, "zero": false}, "axis": null}, "x2": {"field": "x2"}, "y": {"field": "y1", "type": "quantitative", "scale": {"domain": [1.116, 5.423], "nice": false, "zero": false}}, "y2": {"field": "y2"}}},
  {"data": {"name": "arrows"}, "mark": {"type": "rule", "color": "black", "strokeWidth": 3},
   "encoding": {"x": {"field": "x1", "type": "quantitative", "scale": {"domain": [-0.825, 5.417], "nice": false, "zero": false}, "axis": null}, "x2": {"field": "x2"}, "y": {"field": "y1", "type": "quantitative", "scale": {"domain": [1.116, 5.423], "nice": false, "zero": false}}, "y2": {"field": "y2"}}},
  {"data": {"name": "headsup"}, "mark": {"type": "point", "shape": "triangle-up", "size": 400, "filled": true, "color": "black", "opacity": 1},
   "encoding": {"x": {"field": "x", "type": "quantitative", "scale": {"domain": [-0.825, 5.417], "nice": false, "zero": false}, "axis": null}, "y": {"field": "y", "type": "quantitative", "scale": {"domain": [1.116, 5.423], "nice": false, "zero": false}}}},
  {"data": {"name": "headright"}, "mark": {"type": "point", "shape": "triangle-right", "size": 400, "filled": true, "color": "black", "opacity": 1},
   "encoding": {"x": {"field": "x", "type": "quantitative", "scale": {"domain": [-0.825, 5.417], "nice": false, "zero": false}, "axis": null}, "y": {"field": "y", "type": "quantitative", "scale": {"domain": [1.116, 5.423], "nice": false, "zero": false}}}},
  {"data": {"name": "cxlab"}, "mark": {"type": "text", "font": "Liberation Sans", "fontWeight": "bold", "fontSize": 25, "align": "right", "baseline": "middle", "dx": -43, "dy": 8, "color": "black"},
   "encoding": {"x": {"datum": 1.099, "type": "quantitative", "scale": {"domain": [-0.825, 5.417], "nice": false, "zero": false}, "axis": null}, "y": {"field": "d", "type": "quantitative", "scale": {"domain": [1.116, 5.423], "nice": false, "zero": false}}, "text": {"field": "t"}}},
  {"data": {"name": "cxlab"}, "mark": {"type": "text", "font": "Liberation Sans", "fontWeight": "bold", "fontSize": 23, "align": "left", "baseline": "middle", "dx": -40, "dy": -15, "color": "black"},
   "encoding": {"x": {"datum": 1.099, "type": "quantitative", "scale": {"domain": [-0.825, 5.417], "nice": false, "zero": false}, "axis": null}, "y": {"field": "d", "type": "quantitative", "scale": {"domain": [1.116, 5.423], "nice": false, "zero": false}}, "text": {"field": "e"}}},
  {"data": {"name": "yzero"}, "mark": {"type": "text", "font": "Liberation Sans", "fontWeight": "bold", "fontSize": 25, "align": "right", "baseline": "middle", "dx": -25, "dy": 0, "color": "black"},
   "encoding": {"x": {"datum": 1.099, "type": "quantitative", "scale": {"domain": [-0.825, 5.417], "nice": false, "zero": false}, "axis": null}, "y": {"field": "v", "type": "quantitative", "scale": {"domain": [1.116, 5.423], "nice": false, "zero": false}}, "text": {"field": "t"}}},
  {"data": {"name": "cxlab"}, "mark": {"type": "text", "font": "Liberation Sans", "fontWeight": "bold", "fontSize": 26, "align": "center", "baseline": "middle", "dy": 98, "color": "black"},
   "encoding": {"x": {"field": "d", "type": "quantitative", "scale": {"domain": [-0.97, 5.728], "nice": false, "zero": false}, "axis": null}, "y": {"datum": 1.116, "type": "quantitative", "scale": {"domain": [1.116, 5.423], "nice": false, "zero": false}}, "text": {"field": "t"}}},
  {"data": {"name": "cxlab"}, "mark": {"type": "text", "font": "Liberation Sans", "fontWeight": "bold", "fontSize": 25, "align": "center", "baseline": "middle", "dx": 24, "dy": 77, "color": "black"},
   "encoding": {"x": {"field": "d", "type": "quantitative", "scale": {"domain": [-0.97, 5.728], "nice": false, "zero": false}, "axis": null}, "y": {"datum": 1.116, "type": "quantitative", "scale": {"domain": [1.116, 5.423], "nice": false, "zero": false}}, "text": {"field": "e"}}},
  {"data": {"name": "xzero"}, "mark": {"type": "text", "font": "Liberation Sans", "fontWeight": "bold", "fontSize": 26, "align": "center", "baseline": "middle", "dy": 75, "color": "black"},
   "encoding": {"x": {"field": "v", "type": "quantitative", "scale": {"domain": [-0.97, 5.728], "nice": false, "zero": false}, "axis": null}, "y": {"datum": 1.116, "type": "quantitative", "scale": {"domain": [1.116, 5.423], "nice": false, "zero": false}}, "text": {"field": "t"}}}
]
}
],
"bounds": "flush",
"spacing": 683
}
